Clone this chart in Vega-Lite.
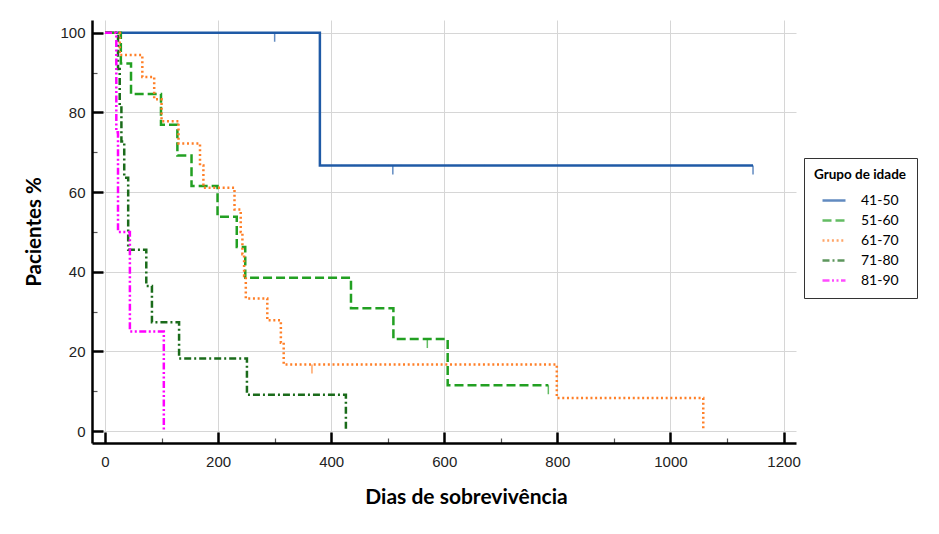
{
  "$schema": "https://vega.github.io/schema/vega-lite/v6.json",
  "width": 704,
  "height": 423,
  "autosize": {"type": "none"},
  "padding": {"left": 92, "top": 20, "right": 143, "bottom": 91},
  "background": "white",
  "config": {"view": {"stroke": null}, "font": "Lato"},
  "datasets": {
    "curvas": [
      {"grupo": "41-50", "dias": 0, "pct": 100},
      {"grupo": "41-50", "dias": 380, "pct": 66.7},
      {"grupo": "41-50", "dias": 1146, "pct": 66.7},
      {"grupo": "51-60", "dias": 0, "pct": 100},
      {"grupo": "51-60", "dias": 28, "pct": 92.3},
      {"grupo": "51-60", "dias": 46, "pct": 84.6},
      {"grupo": "51-60", "dias": 99, "pct": 76.9},
      {"grupo": "51-60", "dias": 128, "pct": 69.2},
      {"grupo": "51-60", "dias": 153, "pct": 61.5},
      {"grupo": "51-60", "dias": 199, "pct": 53.8},
      {"grupo": "51-60", "dias": 233, "pct": 46.2},
      {"grupo": "51-60", "dias": 248, "pct": 38.5},
      {"grupo": "51-60", "dias": 435, "pct": 30.8},
      {"grupo": "51-60", "dias": 510, "pct": 23.1},
      {"grupo": "51-60", "dias": 606, "pct": 11.5},
      {"grupo": "51-60", "dias": 784, "pct": 11.5},
      {"grupo": "61-70", "dias": 0, "pct": 100},
      {"grupo": "61-70", "dias": 26, "pct": 94.4},
      {"grupo": "61-70", "dias": 66, "pct": 88.9},
      {"grupo": "61-70", "dias": 87, "pct": 83.3},
      {"grupo": "61-70", "dias": 100, "pct": 77.8},
      {"grupo": "61-70", "dias": 130, "pct": 72.2},
      {"grupo": "61-70", "dias": 168, "pct": 66.7},
      {"grupo": "61-70", "dias": 174, "pct": 61.1},
      {"grupo": "61-70", "dias": 229, "pct": 55.6},
      {"grupo": "61-70", "dias": 240, "pct": 50},
      {"grupo": "61-70", "dias": 243, "pct": 44.4},
      {"grupo": "61-70", "dias": 246, "pct": 38.9},
      {"grupo": "61-70", "dias": 249, "pct": 33.3},
      {"grupo": "61-70", "dias": 287, "pct": 27.8},
      {"grupo": "61-70", "dias": 311, "pct": 22.2},
      {"grupo": "61-70", "dias": 316, "pct": 16.7},
      {"grupo": "61-70", "dias": 799, "pct": 8.3},
      {"grupo": "61-70", "dias": 1058, "pct": 0},
      {"grupo": "71-80", "dias": 0, "pct": 100},
      {"grupo": "71-80", "dias": 23, "pct": 90.9},
      {"grupo": "71-80", "dias": 26, "pct": 81.8},
      {"grupo": "71-80", "dias": 29, "pct": 72.7},
      {"grupo": "71-80", "dias": 34, "pct": 63.6},
      {"grupo": "71-80", "dias": 41, "pct": 45.5},
      {"grupo": "71-80", "dias": 73, "pct": 36.4},
      {"grupo": "71-80", "dias": 83, "pct": 27.3},
      {"grupo": "71-80", "dias": 131, "pct": 18.2},
      {"grupo": "71-80", "dias": 251, "pct": 9.1},
      {"grupo": "71-80", "dias": 426, "pct": 0},
      {"grupo": "81-90", "dias": 0, "pct": 100},
      {"grupo": "81-90", "dias": 20, "pct": 75},
      {"grupo": "81-90", "dias": 23, "pct": 50},
      {"grupo": "81-90", "dias": 44, "pct": 25},
      {"grupo": "81-90", "dias": 104, "pct": 0}
    ],
    "censuras": [
      {"grupo": "41-50", "dias": 300, "pct": 100},
      {"grupo": "41-50", "dias": 509, "pct": 66.7},
      {"grupo": "41-50", "dias": 1146, "pct": 66.7},
      {"grupo": "51-60", "dias": 570, "pct": 23.1},
      {"grupo": "51-60", "dias": 784, "pct": 11.5},
      {"grupo": "61-70", "dias": 366, "pct": 16.7}
    ]
  },
  "layer": [
    {
      "data": {"name": "curvas"},
      "mark": {"type": "line", "interpolate": "step-after", "strokeWidth": 2.5},
      "encoding": {
        "x": {
          "field": "dias", "type": "quantitative",
          "scale": {"domain": [-23, 1222], "nice": false, "zero": false},
          "axis": {
            "values": [0, 100, 200, 300, 400, 500, 600, 700, 800, 900, 1000, 1100, 1200],
            "format": "d",
            "title": "Dias de sobrevivência",
            "titleFont": "Lato", "titleFontSize": 21, "titleFontWeight": "bold", "titleColor": "black", "titlePadding": 11, "titleX": 374,
            "labelFont": "Liberation Sans", "labelFontSize": 15, "labelColor": "#222",
            "labelExpr": "datum.value % 200 === 0 ? datum.label : ''",
            "labelPadding": 22, "labelFlush": false, "labelOverlap": false,
            "domainColor": "black", "domainWidth": 2.5,
            "tickColor": {"condition": {"test": "datum.value % 200 === 0", "value": "black"}, "value": "#555555"},
            "tickSize": {"condition": {"test": "datum.value % 200 === 0", "value": -11}, "value": -5},
            "tickWidth": {"condition": {"test": "datum.value % 200 === 0", "value": 2.5}, "value": 1.2},
            "grid": true, "gridColor": "#d6d6d6", "gridWidth": 1,
            "gridOpacity": {"condition": {"test": "datum.value % 200 === 0", "value": 1}, "value": 0}
          }
        },
        "y": {
          "field": "pct", "type": "quantitative",
          "scale": {"domain": [-3, 103.2], "nice": false, "zero": false},
          "axis": {
            "values": [0, 10, 20, 30, 40, 50, 60, 70, 80, 90, 100],
            "title": "Pacientes %",
            "titleFont": "Lato", "titleFontSize": 20.5, "titleFontWeight": "bold", "titleColor": "black", "titlePadding": 15,
            "labelFont": "Liberation Sans", "labelFontSize": 15, "labelColor": "#222",
            "labelExpr": "datum.value % 20 === 0 ? datum.label : ''",
            "labelPadding": 18, "labelFlush": false, "labelOverlap": false,
            "domainColor": "black", "domainWidth": 2.5,
            "tickColor": {"condition": {"test": "datum.value % 20 === 0", "value": "black"}, "value": "#555555"},
            "tickSize": {"condition": {"test": "datum.value % 20 === 0", "value": -11}, "value": -5},
            "tickWidth": {"condition": {"test": "datum.value % 20 === 0", "value": 2.5}, "value": 1.2},
            "grid": true, "gridColor": "#d6d6d6", "gridWidth": 1,
            "gridOpacity": {"condition": {"test": "datum.value % 20 === 0", "value": 1}, "value": 0}
          }
        },
        "color": {
          "field": "grupo", "type": "nominal",
          "scale": {"domain": ["41-50", "51-60", "61-70", "71-80", "81-90"], "range": ["#1f5aa6", "#22a022", "#ff7f27", "#1a6b1a", "#ff00ff"]},
          "legend": {
            "title": "Grupo de idade", "orient": "none", "legendX": 712, "legendY": 138,
            "titleFont": "Lato", "titleFontSize": 13.5, "titleFontWeight": "bold", "titleColor": "black", "titleAnchor": "middle", "titlePadding": 6,
            "labelFont": "Lato", "labelFontSize": 14, "labelColor": "black", "labelOffset": 14,
            "symbolType": "stroke", "symbolSize": 529, "symbolStrokeWidth": 2.5,
            "strokeColor": "#333333", "fillColor": "white", "padding": 10, "rowPadding": 0
          }
        },
        "strokeDash": {
          "field": "grupo", "type": "nominal",
          "scale": {"domain": ["41-50", "51-60", "61-70", "71-80", "81-90"], "range": [[1, 0], [9, 4], [2, 2.7], [7, 3, 2, 3], [7, 2.5, 2, 2.5, 2, 2.5]]},
          "legend": {
            "title": "Grupo de idade", "orient": "none", "legendX": 712, "legendY": 138,
            "titleFont": "Lato", "titleFontSize": 13.5, "titleFontWeight": "bold", "titleColor": "black", "titleAnchor": "middle", "titlePadding": 6,
            "labelFont": "Lato", "labelFontSize": 14, "labelColor": "black", "labelOffset": 14,
            "symbolType": "stroke", "symbolSize": 529, "symbolStrokeWidth": 2.5,
            "strokeColor": "#333333", "fillColor": "white", "padding": 10, "rowPadding": 0
          }
        }
      }
    },
    {
      "data": {"name": "censuras"},
      "mark": {"type": "tick", "orient": "vertical", "size": 9, "thickness": 1.5, "yOffset": 4.5},
      "encoding": {
        "x": {"field": "dias", "type": "quantitative"},
        "y": {"field": "pct", "type": "quantitative"},
        "color": {"field": "grupo", "type": "nominal"}
      }
    }
  ]
}
